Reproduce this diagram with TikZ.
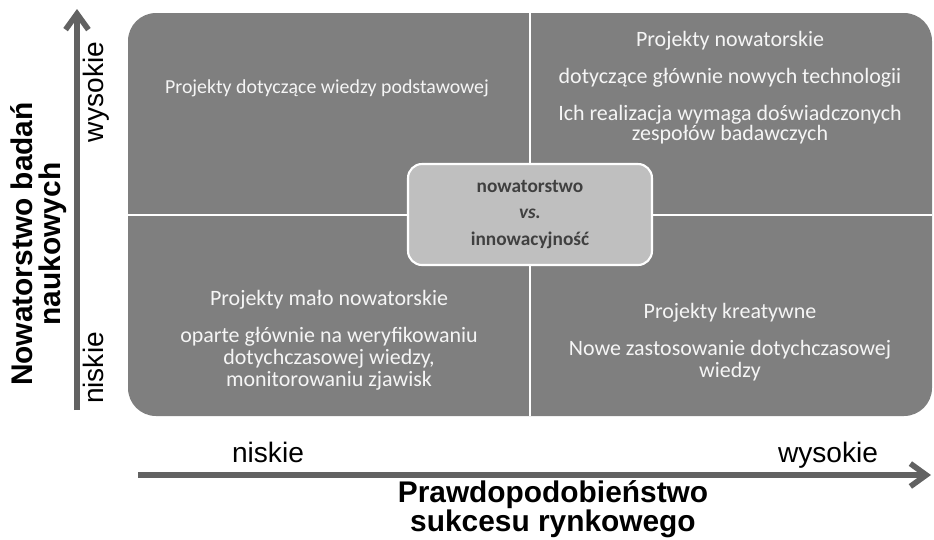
\documentclass[tikz,border=0pt]{standalone}
\usepackage{fontspec}
\setmainfont{Carlito}
\newfontfamily\arialfont{Liberation Sans}
\usetikzlibrary{arrows.meta}
\definecolor{panelgray}{RGB}{127,127,127}
\definecolor{coregray}{RGB}{191,191,191}
\definecolor{coretext}{RGB}{64,64,64}
\definecolor{axisgray}{RGB}{98,98,98}
\definecolor{quadwhite}{RGB}{245,245,245}
\tikzset{
  quad/.style={align=center,inner sep=0pt,text=quadwhite,
    font=\fontsize{12.5}{12.5}\selectfont,
    execute at begin node={\lineskiplimit=-10pt\relax}},
  core/.style={draw=white,line width=1.2pt,fill=coregray,rounded corners=0.28cm,
    minimum width=4.88cm,minimum height=2.02cm,align=center,text=coretext,
    font=\bfseries\fontsize{11}{15}\selectfont},
  axislabel/.style={inner sep=0pt,font=\arialfont\fontsize{16}{18}\selectfont},
  axistitle/.style={align=center,inner sep=0pt,font=\arialfont\bfseries\fontsize{17}{16}\selectfont},
  axisline/.style={draw=axisgray,line width=3.2pt,-{Straight Barb[length=9pt,width=13pt]}},
  divider/.style={draw=white,line width=1.2pt}
}
\begin{document}
\begin{tikzpicture}[x=0.02cm,y=-0.02cm]
  \useasboundingbox (0,0) rectangle (934,539);
  % pole macierzy
  \fill[panelgray,rounded corners=0.56cm] (128,13) rectangle (932,416);
  \coordinate (vtop) at (530,13);
  \coordinate (vbot) at (530,416);
  \coordinate (hleft) at (128,215);
  \coordinate (hright) at (932,215);
  \draw[divider] (vtop) -- (vbot);
  \draw[divider] (hleft) -- (hright);

  % cwiartki
  \node[quad,font=\fontsize{11.3}{11.5}\selectfont] (podst) at (327,88) {Projekty dotyczące wiedzy podstawowej};
  \node[quad,anchor=north,font=\fontsize{12.5}{11.5}\selectfont] (nowat) at (730,31) {Projekty nowatorskie\\[9.5pt]
    dotyczące głównie nowych technologii\\[9.5pt]
    Ich realizacja wymaga doświadczonych\\zespołów badawczych};
  \node[quad,anchor=north] (malo) at (329,290) {Projekty mało nowatorskie\\[8.5pt]
    oparte głównie na weryfikowaniu\\dotychczasowej wiedzy,\\monitorowaniu zjawisk};
  \node[quad,anchor=north] (kreat) at (730,303) {Projekty kreatywne\\[8.5pt]
    Nowe zastosowanie dotychczasowej\\wiedzy};

  % srodek
  \node[core] (core) at (530,214.5) {nowatorstwo\\\textit{vs.}\\innowacyjność};

  % osie
  \coordinate (ystart) at (77,410);
  \coordinate (yend) at (77,9);
  \coordinate (xstart) at (138,475);
  \coordinate (xend) at (931,475);
  \draw[axisline] (ystart) -- (yend);
  \draw[axisline] (xstart) -- (xend);

  \node[axislabel,rotate=90] (ylow) at (93,368) {niskie};
  \node[axislabel,rotate=90] (yhigh) at (96,92) {wysokie};
  \node[axistitle,rotate=90] (ytitle) at (39,244) {Nowatorstwo badań\\naukowych};
  \node[axislabel,anchor=base] (xlow) at (268,462) {niskie};
  \node[axislabel,anchor=base] (xhigh) at (828,462) {wysokie};
  \node[axistitle,font=\arialfont\bfseries\fontsize{17}{14.5}\selectfont] (xtitle) at (553,509) {Prawdopodobieństwo\\sukcesu rynkowego};
\end{tikzpicture}
\end{document}
